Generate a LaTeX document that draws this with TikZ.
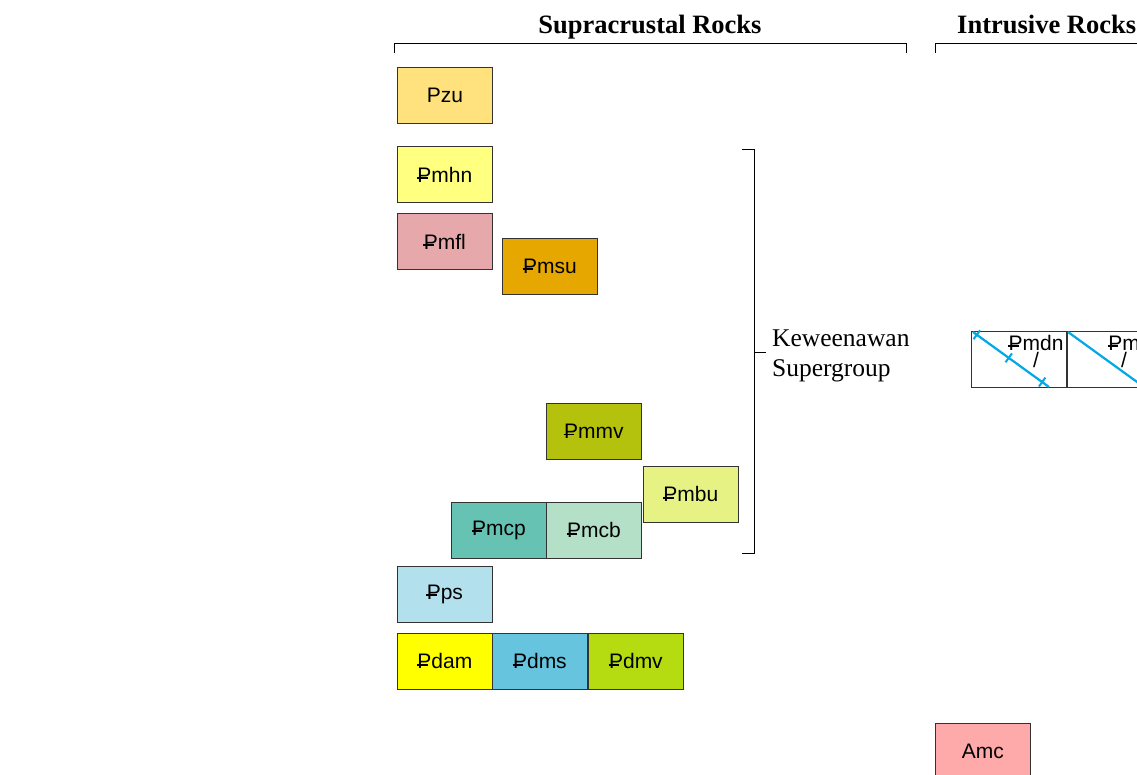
\documentclass[tikz,border=0pt]{standalone}
\usepackage{fontspec}
\setmainfont{Liberation Serif}
\newfontfamily\unitfont{Liberation Sans}
\usetikzlibrary{calc}
% map unit colours
\definecolor{pzu}{HTML}{FFE17D}
\definecolor{pmhn}{HTML}{FFFF80}
\definecolor{pmfl}{HTML}{E6A8AB}
\definecolor{pmsu}{HTML}{E6A800}
\definecolor{pmmv}{HTML}{B5C20D}
\definecolor{pmbu}{HTML}{E6F283}
\definecolor{pmcp}{HTML}{66C2B3}
\definecolor{pmcb}{HTML}{B3E0C7}
\definecolor{pps}{HTML}{B3E0ED}
\definecolor{pdam}{HTML}{FFFF00}
\definecolor{pdms}{HTML}{66C4DE}
\definecolor{pdmv}{HTML}{B5DC10}
\definecolor{amc}{HTML}{FFAAAA}
\definecolor{dike}{HTML}{00A8E6}
\newcommand{\Pst}{\rlap{\kern-0.02em\rule[0.16em]{0.5em}{0.08em}}P}
\begin{document}
\begin{tikzpicture}[x=1pt, y=-1pt,
    unit/.style={draw=black!80, line width=0.8pt, anchor=north west, minimum width=95pt, minimum height=56pt, inner sep=0pt, font=\unitfont\fontsize{21}{18}\selectfont, align=center},
    head/.style={font=\bfseries\fontsize{26.5}{30}\selectfont, inner sep=0pt}]
    \useasboundingbox (0,0) rectangle (1137,774);
    \node [head, anchor=base] (supra) at (650,33) {Supracrustal Rocks};
    \node [head, anchor=base west] (intru) at (957,33) {Intrusive Rocks};
    \draw (394,53)--(394,43)--(906,43)--(906,53);
    \draw (935,53)--(935,43)--(1140,43);
    \node [unit, fill=pzu] (pzu) at (397,67) {Pzu};
    \node [unit, fill=pmhn] (pmhn) at (397,146) {\Pst mhn};
    \node [unit, fill=pmfl] (pmfl) at (397,213) {\Pst mfl};
    \node [unit, fill=pmsu] (pmsu) at (502,238) {\Pst msu};
    \node [unit, fill=pmmv] (pmmv) at (546,403) {\Pst mmv};
    \node [unit, fill=pmbu] (pmbu) at (643,466) {\Pst mbu};
    \node [unit, fill=pmcp] (pmcp) at (451,502) {\Pst mcp};
    \node [unit, fill=pmcb] (pmcb) at (546,502) {\Pst mcb};
    \node [unit, fill=pps] (pps) at (397,566) {\Pst ps};
    \node [unit, fill=pdam] (pdam) at (397,633) {\Pst dam};
    \node [unit, fill=pdms] (pdms) at (492,633) {\Pst dms};
    \node [unit, fill=pdmv] (pdmv) at (588,633) {\Pst dmv};
    \node [unit, fill=amc] (amc) at (935,723) {Amc};
    % Keweenawan bracket
    \draw (742,149)--(754,149)--(754,553)--(742,553);
    \draw (754,352)--(766,352);
    \node [anchor=west, align=left, inner sep=0pt, font=\fontsize{25.5}{30}\selectfont] (kw) at (772,356) {Keweenawan\\Supergroup};
    % dike units
    \node [unit] (pmdn) at (971,331) {};
    \node [unit] (pmdx) at (1067,331) {};
    \coordinate (d1) at (973,332);
    \coordinate (d2) at (1049,387);
    \draw [dike, line width=2.2pt] (d1)--(d2);
    \foreach \t in {0.05,0.47,0.91}
        \draw [dike, line width=2pt] ($(d1)!\t!(d2)!5.5pt!90:(d2)$)--($(d1)!\t!(d2)!5.5pt!-90:(d2)$);
    \draw [dike, line width=2.2pt] (1068,332)--(1144,387);
    \node [font=\unitfont\fontsize{21}{17}\selectfont, align=center, inner sep=0pt, anchor=base] (lbl1) at (1036,367) {\Pst mdn\\/};
    \node [font=\unitfont\fontsize{21}{17}\selectfont, align=center, inner sep=0pt, anchor=base] (lbl2) at (1124,367) {\Pst m\\/};
\end{tikzpicture}
\end{document}
